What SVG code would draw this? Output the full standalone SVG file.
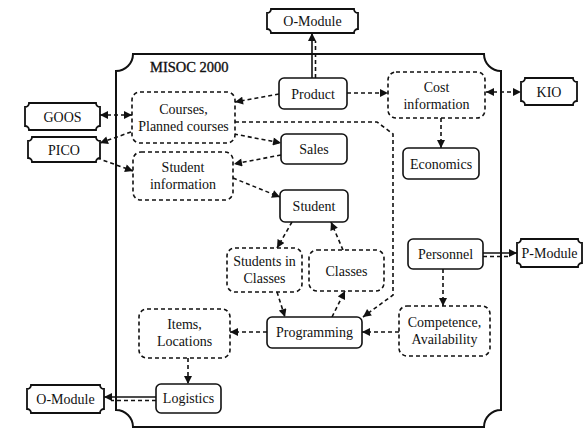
<svg xmlns="http://www.w3.org/2000/svg" width="583" height="430" viewBox="0 0 583 430">
<style>
.t{font-family:"Liberation Serif","DejaVu Serif",serif;font-size:14px;fill:#111;text-anchor:middle}
.ttl{font-family:"Liberation Serif","DejaVu Serif",serif;font-size:14.5px;fill:#111;stroke:#111;stroke-width:0.35}
.s{fill:#fff;stroke:#111;stroke-width:1.6}
.d{fill:#fff;stroke:#111;stroke-width:1.6;stroke-dasharray:4 3}
.x{fill:#fff;stroke:#111;stroke-width:1.8}
.frame{fill:none;stroke:#111;stroke-width:2}
.c{fill:none;stroke:#111;stroke-width:1.6;stroke-dasharray:4 3}
.cs{fill:none;stroke:#111;stroke-width:1.6}
.a{marker-end:url(#ah)}
.b{marker-start:url(#ah);marker-end:url(#ah)}
</style>
<defs>
<marker id="ah" viewBox="0 0 10 10" refX="10" refY="5" markerWidth="9" markerHeight="8" markerUnits="userSpaceOnUse" orient="auto-start-reverse">
<path d="M0,0 L10,5 L0,10 Z" fill="#111"/>
</marker>
</defs>
<rect width="583" height="430" fill="#fff"/>

<g id="frame">
<path class="frame" d="M133,54 H484 A17,17 0 0 0 501,71 V410 A17,17 0 0 0 484,427 H133 A17,17 0 0 0 116,410 V71 A17,17 0 0 0 133,54 Z"/>
<text class="ttl" x="150" y="72">MISOC 2000</text>
</g>

<g id="connectors">
<line class="cs a" x1="312" y1="78" x2="312" y2="33"/>
<line class="c" x1="315.5" y1="78" x2="315.5" y2="41"/>
<line class="c a" x1="347" y1="93" x2="388" y2="93"/>
<line class="c b" x1="486" y1="92" x2="521" y2="92"/>
<line class="c a" x1="441" y1="118" x2="441" y2="148"/>
<line class="c a" x1="279" y1="94" x2="235" y2="102"/>
<line class="c b" x1="100" y1="115" x2="132" y2="115"/>
<line class="c a" x1="131" y1="132" x2="100" y2="143"/>
<line class="c a" x1="97" y1="158" x2="133" y2="171"/>
<line class="c a" x1="234" y1="134" x2="281" y2="143"/>
<line class="c a" x1="281" y1="155" x2="234" y2="164"/>
<line class="c a" x1="233" y1="178" x2="280" y2="197"/>
<line class="c a" x1="292" y1="222" x2="277" y2="248"/>
<line class="c a" x1="343" y1="250" x2="331" y2="222"/>
<line class="c a" x1="277" y1="292" x2="285" y2="317"/>
<line class="c a" x1="332" y1="317" x2="345" y2="291"/>
<path class="c a" d="M235,122 H377 L393,134 V295 L363,317"/>
<line class="cs a" x1="483" y1="253" x2="517" y2="253"/>
<line class="c" x1="483" y1="256.5" x2="510" y2="256.5"/>
<line class="c a" x1="443" y1="269" x2="443" y2="306"/>
<line class="c a" x1="399" y1="332" x2="362" y2="332"/>
<line class="c a" x1="267" y1="332" x2="230" y2="332"/>
<line class="c a" x1="188" y1="358" x2="188" y2="384"/>
<line class="cs a" x1="156" y1="397" x2="104" y2="397"/>
<line class="c" x1="156" y1="400.5" x2="111" y2="400.5"/>
</g>

<g id="omodule-top">
<path class="x" d="M271,9 H354 A4,4 0 0 0 358,13 V29 A4,4 0 0 0 354,33 H271 A4,4 0 0 0 267,29 V13 A4,4 0 0 0 271,9 Z"/>
<text class="t" x="312.5" y="26">O-Module</text>
</g>
<g id="kio">
<path class="x" d="M525,78 H573 A4,4 0 0 0 577,82 V101 A4,4 0 0 0 573,105 H525 A4,4 0 0 0 521,101 V82 A4,4 0 0 0 525,78 Z"/>
<text class="t" x="549" y="96.5">KIO</text>
</g>
<g id="goos">
<path class="x" d="M29,103 H96 A4,4 0 0 0 100,107 V126 A4,4 0 0 0 96,130 H29 A4,4 0 0 0 25,126 V107 A4,4 0 0 0 29,103 Z"/>
<text class="t" x="62.5" y="121.5">GOOS</text>
</g>
<g id="pico">
<path class="x" d="M32,137 H96 A4,4 0 0 0 100,141 V158 A4,4 0 0 0 96,162 H32 A4,4 0 0 0 28,158 V141 A4,4 0 0 0 32,137 Z"/>
<text class="t" x="64" y="154.5">PICO</text>
</g>
<g id="pmodule">
<path class="x" d="M521,239 H578 A4,4 0 0 0 582,243 V263 A4,4 0 0 0 578,267 H521 A4,4 0 0 0 517,263 V243 A4,4 0 0 0 521,239 Z"/>
<text class="t" x="549.5" y="257.5">P-Module</text>
</g>
<g id="omodule-bottom">
<path class="x" d="M31,385 H100 A4,4 0 0 0 104,389 V409 A4,4 0 0 0 100,413 H31 A4,4 0 0 0 27,409 V389 A4,4 0 0 0 31,385 Z"/>
<text class="t" x="65.5" y="403.5">O-Module</text>
</g>

<g id="product">
<rect class="s" x="279" y="78" width="68" height="31" rx="5"/>
<text class="t" x="313" y="98.5">Product</text>
</g>
<g id="cost-information">
<rect class="d" x="388" y="72" width="97" height="46" rx="8"/>
<text class="t" x="436.5" y="92">Cost</text>
<text class="t" x="436.5" y="109">information</text>
</g>
<g id="economics">
<rect class="s" x="403" y="148" width="76" height="31" rx="5"/>
<text class="t" x="441" y="168.5">Economics</text>
</g>
<g id="courses">
<rect class="d" x="132" y="92" width="103" height="51" rx="8"/>
<text class="t" x="183.5" y="114">Courses,</text>
<text class="t" x="183.5" y="131">Planned courses</text>
</g>
<g id="sales">
<rect class="s" x="281" y="134" width="66" height="30" rx="5"/>
<text class="t" x="314" y="153.5">Sales</text>
</g>
<g id="student-information">
<rect class="d" x="133" y="152" width="100" height="48" rx="8"/>
<text class="t" x="183" y="172">Student</text>
<text class="t" x="183" y="189">information</text>
</g>
<g id="student">
<rect class="s" x="280" y="190" width="68" height="32" rx="5"/>
<text class="t" x="314" y="210.5">Student</text>
</g>
<g id="students-in-classes">
<rect class="d" x="227" y="248" width="75" height="44" rx="8"/>
<text class="t" x="264.5" y="266">Students in</text>
<text class="t" x="264.5" y="283">Classes</text>
</g>
<g id="classes">
<rect class="d" x="309" y="250" width="75" height="41" rx="8"/>
<text class="t" x="346.5" y="275.5">Classes</text>
</g>
<g id="personnel">
<rect class="s" x="408" y="239" width="75" height="30" rx="5"/>
<text class="t" x="445.5" y="258.5">Personnel</text>
</g>
<g id="competence">
<rect class="d" x="399" y="306" width="91" height="50" rx="8"/>
<text class="t" x="444.5" y="327">Competence,</text>
<text class="t" x="444.5" y="344">Availability</text>
</g>
<g id="programming">
<rect class="s" x="267" y="317" width="95" height="31" rx="5"/>
<text class="t" x="314.5" y="337">Programming</text>
</g>
<g id="items-locations">
<rect class="d" x="139" y="309" width="91" height="49" rx="8"/>
<text class="t" x="184.5" y="329">Items,</text>
<text class="t" x="184.5" y="346">Locations</text>
</g>
<g id="logistics">
<rect class="s" x="156" y="384" width="65" height="29" rx="5"/>
<text class="t" x="188.5" y="403">Logistics</text>
</g>
</svg>
